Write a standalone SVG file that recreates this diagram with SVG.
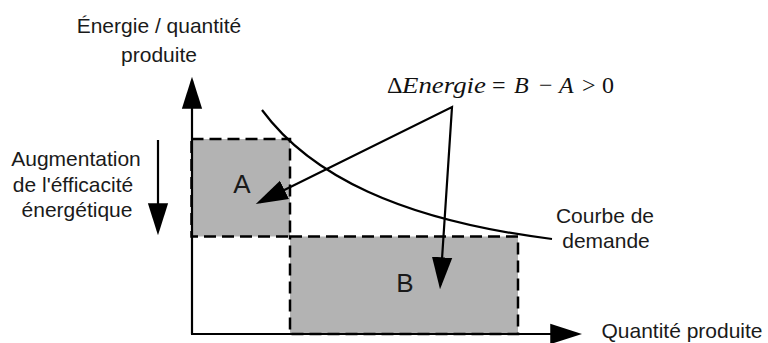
<svg xmlns="http://www.w3.org/2000/svg" width="768" height="343" viewBox="0 0 768 343">
<style>
.lbl{font-family:"Liberation Sans",Arial,sans-serif;font-size:21px;fill:#1a1a1a;text-anchor:middle}
.big{font-family:"Liberation Sans",Arial,sans-serif;font-size:26px;fill:#1a1a1a;text-anchor:middle}
.math{font-family:"Liberation Serif","Times New Roman",serif;font-size:24px;fill:#111}
.it{font-style:italic}
.box{fill:#b3b3b3;stroke:none}
.dash{fill:none;stroke:#000;stroke-width:2.5;stroke-dasharray:12 6}
.ln{fill:none;stroke:#000;stroke-width:2.2}
</style>
<defs>
<marker id="ah" markerUnits="userSpaceOnUse" markerWidth="32" markerHeight="22" refX="26" refY="9.5" orient="auto-start-reverse" viewBox="0 0 30 19">
<path d="M0,0 L30,9.5 L0,19 z" fill="#000"/>
</marker>
</defs>
<rect width="768" height="343" fill="#fff"/>
<g id="boxA">
<rect class="box" x="191.5" y="139" width="98.5" height="97.5"/>
<rect class="dash" x="191.5" y="139" width="98.5" height="97.5"/>
<text class="big" x="242" y="193">A</text>
</g>
<g id="boxB">
<rect class="box" x="290" y="236.5" width="228" height="97.5"/>
<rect class="dash" x="290" y="236.5" width="228" height="97.5"/>
<text class="big" x="405" y="292">B</text>
</g>
<g id="curve">
<path class="ln" d="M262,110 C310,175 400,220 552,239"/>
</g>
<g id="connectors">
<line class="ln" x1="192" y1="334" x2="192" y2="81" marker-end="url(#ah)"/>
<line class="ln" x1="191" y1="334" x2="578" y2="334" marker-end="url(#ah)"/>
<line class="ln" x1="158" y1="140" x2="158" y2="231" marker-end="url(#ah)"/>
<path class="ln" d="M259.6,202.2 L452,107 L440.3,285" stroke-linejoin="miter" marker-start="url(#ah)" marker-end="url(#ah)"/>
</g>
<g id="yaxis-label">
<text class="lbl" x="159" y="33">Énergie / quantité</text>
<text class="lbl" x="159" y="62">produite</text>
</g>
<g id="xaxis-label">
<text class="lbl" x="682" y="338">Quantité produite</text>
</g>
<g id="efficiency-label">
<text class="lbl" x="76" y="166">Augmentation</text>
<text class="lbl" x="73" y="192">de l'éfficacité</text>
<text class="lbl" x="77" y="217">énergétique</text>
</g>
<g id="demand-label">
<text class="lbl" x="605" y="223">Courbe de</text>
<text class="lbl" x="606" y="248">demande</text>
</g>
<g id="formula">
<text class="math" y="93"><tspan x="387">Δ</tspan><tspan x="402" class="it" textLength="84" lengthAdjust="spacingAndGlyphs">Energie</tspan><tspan x="492">=</tspan><tspan x="514" class="it">B</tspan><tspan x="539">−</tspan><tspan x="559" class="it">A</tspan><tspan x="582">&gt;</tspan><tspan x="602">0</tspan></text>
</g>
</svg>
